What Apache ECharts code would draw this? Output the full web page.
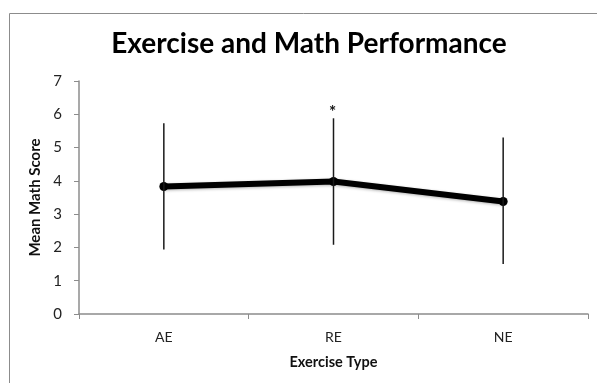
<!DOCTYPE html>
<html><head><meta charset="utf-8">
<script src="https://cdn.jsdelivr.net/npm/echarts@6/dist/echarts.min.js"></script>
<style>html,body{margin:0;padding:0;background:#fff}#c{width:597px;height:383px}</style>
</head><body><div id="c"></div>
<script>
const categories = ['AE', 'RE', 'NE'];
const means = [3.83, 3.98, 3.38];
const errLow = [1.94, 2.08, 1.5];
const errHigh = [5.73, 5.88, 5.3];
const sigMarks = ['', '*', ''];
const yTicks = [0, 1, 2, 3, 4, 5, 6, 7];

const chart = echarts.init(document.getElementById('c'), null, {renderer: 'canvas'});
const font = 'Lato, "Open Sans", sans-serif';
chart.setOption({
  animation: false,
  title: {
    text: 'Exercise and Math Performance',
    left: 304, top: 25, textAlign: 'center',
    textStyle: {fontFamily: font, fontWeight: 'bold', fontSize: 28, color: '#000'}
  },
  graphic: [{
    type: 'rect', shape: {x: 9.5, y: 13.5, width: 620, height: 400},
    style: {fill: null, stroke: '#8c8c8c', lineWidth: 1}, silent: true
  }],
  grid: {left: 79, right: 9, top: 81, bottom: 69},
  xAxis: {
    type: 'category', data: categories, boundaryGap: true,
    name: 'Exercise Type', nameLocation: 'middle', nameGap: 41,
    nameTextStyle: {fontFamily: font, fontWeight: 'bold', fontSize: 14.5, color: '#111'},
    axisLine: {lineStyle: {color: '#8c8c8c', width: 1.5}},
    axisTick: {show: true, length: 5, lineStyle: {color: '#8c8c8c'}},
    axisLabel: {fontFamily: font, fontSize: 14, color: '#222', margin: 16}
  },
  yAxis: {
    type: 'value', min: yTicks[0], max: yTicks[yTicks.length - 1], interval: 1,
    name: 'Mean Math Score', nameLocation: 'middle', nameGap: 31,
    nameTextStyle: {fontFamily: font, fontWeight: 'bold', fontSize: 15, color: '#111'},
    axisLine: {show: true, lineStyle: {color: '#8c8c8c', width: 1.5}},
    axisTick: {show: true, length: 5, lineStyle: {color: '#8c8c8c'}},
    splitLine: {show: false},
    axisLabel: {fontFamily: font, fontSize: 15, color: '#222', margin: 17}
  },
  series: [{
    type: 'line', data: means, z: 3,
    symbol: 'circle', symbolSize: 9,
    lineStyle: {color: '#000', width: 6, shadowColor: 'rgba(0,0,0,0.3)', shadowBlur: 3, shadowOffsetY: 1},
    itemStyle: {color: '#000'}
  }, {
    type: 'custom', z: 4,
    data: categories.map((c, i) => [i, errLow[i], errHigh[i], sigMarks[i]]),
    renderItem: function (params, api) {
      const lo = api.coord([api.value(0), api.value(1)]);
      const hi = api.coord([api.value(0), api.value(2)]);
      const children = [{
        type: 'line', shape: {x1: lo[0], y1: lo[1], x2: hi[0], y2: hi[1]},
        style: {stroke: '#1a1a1a', lineWidth: 1.5}
      }];
      const mark = sigMarks[params.dataIndex];
      if (mark) {
        children.push({
          type: 'text', x: hi[0] - 1, y: hi[1] + 3,
          style: {text: mark, fontFamily: font, fontWeight: 'bold', fontSize: 17, fill: '#111', textAlign: 'center', textVerticalAlign: 'bottom'}
        });
      }
      return {type: 'group', children: children};
    }
  }]
});
</script></body></html>
